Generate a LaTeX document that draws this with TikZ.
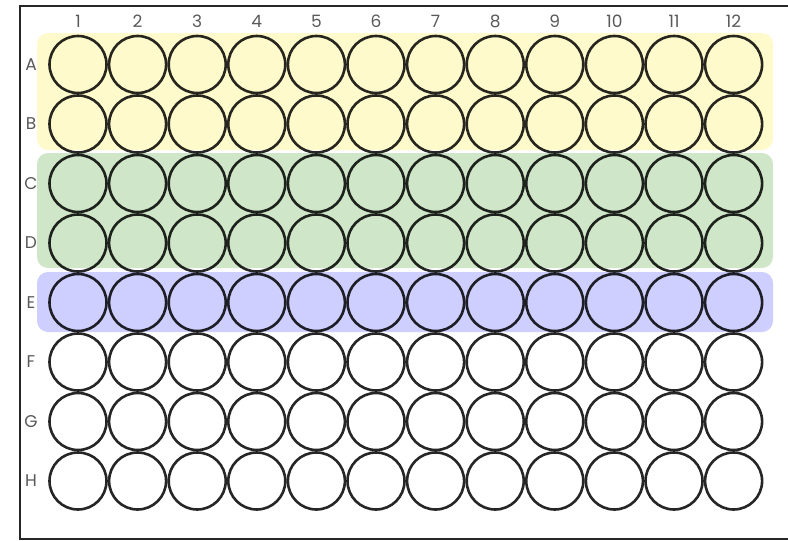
\documentclass[tikz,border=0pt]{standalone}
\usepackage{fontspec}
\setsansfont{Poppins}
\definecolor{bandyellow}{RGB}{255,250,204}
\definecolor{bandgreen}{RGB}{208,230,200}
\definecolor{bandblue}{RGB}{206,206,255}
\tikzset{
  well/.style={circle,draw=black,draw opacity=.85,line width=2.6pt,inner sep=0pt,minimum size=57pt},
  lbl/.style={text=black!65,inner sep=0pt},
  band/.style={rounded corners=11pt}
}
\begin{document}
\begin{tikzpicture}[x=1pt,y=-1pt,font=\sffamily\fontsize{17}{17}\selectfont]
\useasboundingbox (0,0) rectangle (788,541);
\fill[white] (0,0) rectangle (788,541);
% plate frame
\draw[line width=2.6pt,black!85] (800,6) -- (20,6) -- (20,539) -- (800,539);
% coloured rows
\fill[bandyellow,band] (37,33) rectangle (773,150);
\fill[bandgreen,band] (37,153) rectangle (773,268);
\fill[bandblue,band] (37,272) rectangle (773,332);
% column and row labels
\foreach \c in {1,...,12}
  \node[lbl] (col\c) at ({78+(\c-1)*59.6},21) {\c};
\foreach \r [count=\i] in {A,B,C,D,E,F,G,H}
  \node[lbl] (row\r) at (31,{64.5+(\i-1)*59.5}) {\r};
% wells
\foreach \r [count=\i] in {A,B,C,D,E,F,G,H}
  \foreach \c in {1,...,12}
    \node[well] (\r\c) at ({78+(\c-1)*59.6},{64.5+(\i-1)*59.5}) {};
\end{tikzpicture}
\end{document}
